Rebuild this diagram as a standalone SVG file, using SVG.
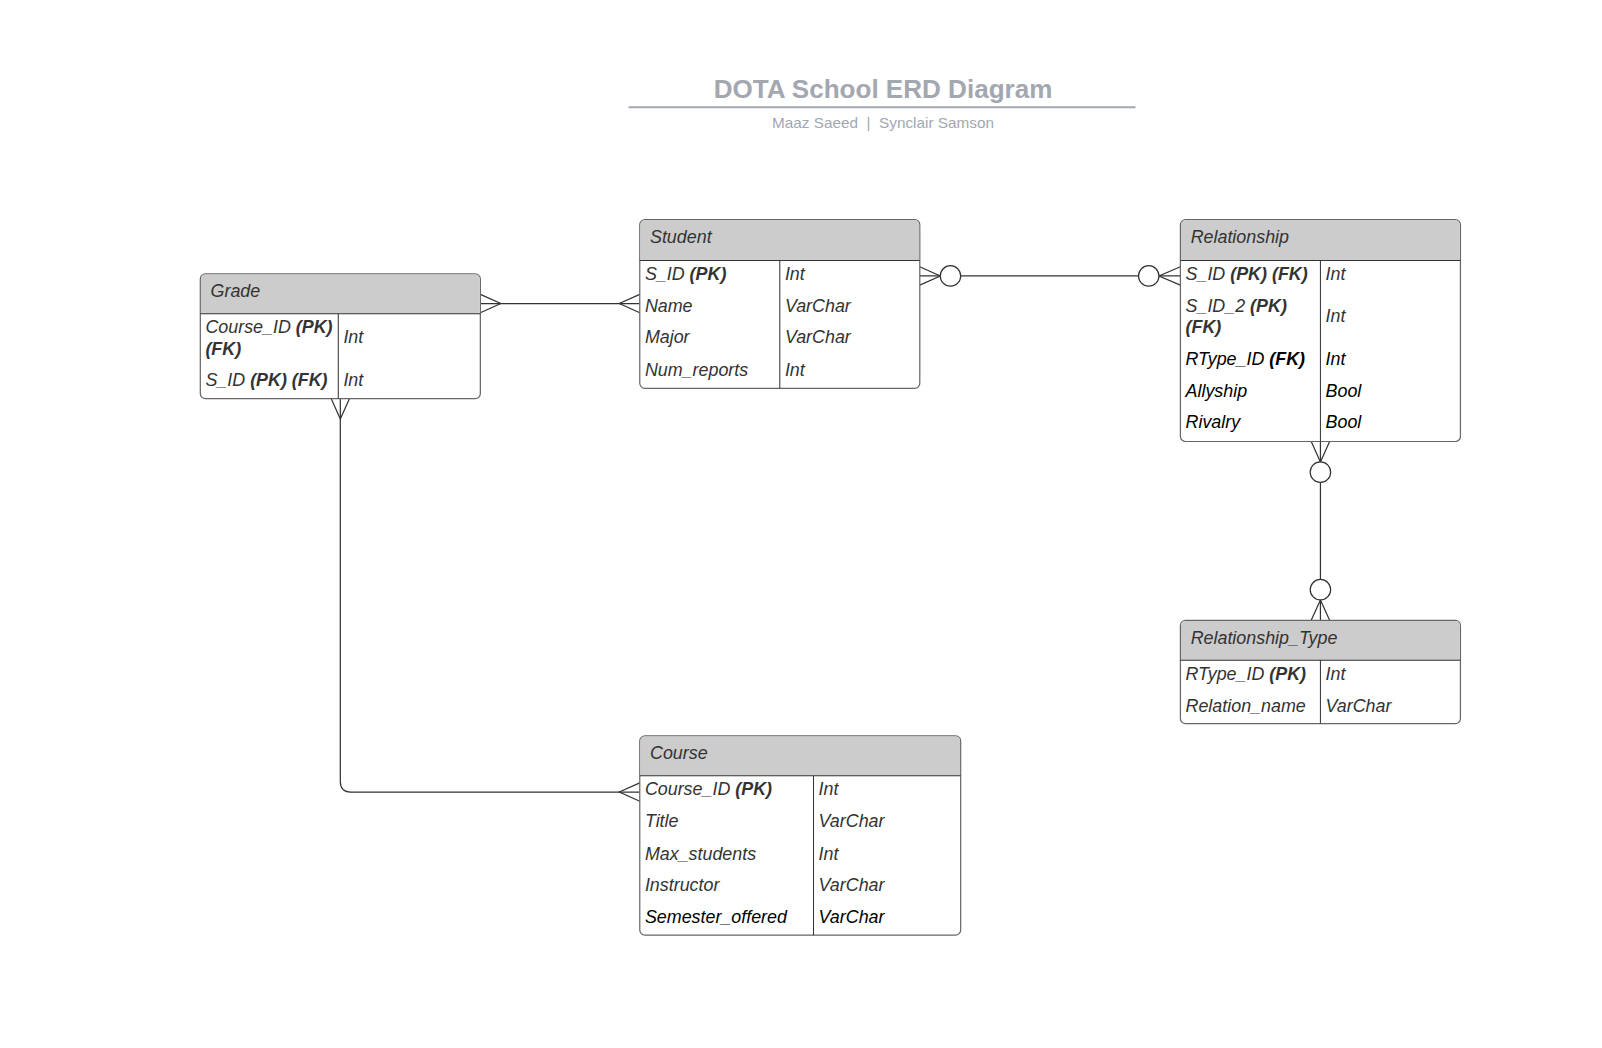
<svg xmlns="http://www.w3.org/2000/svg" width="1602" height="1048" viewBox="0 0 1602 1048">
<style>
text{font-family:"Liberation Sans",Arial,sans-serif;}
.box{fill:#ffffff;stroke:#666;stroke-width:1.2;}
.hdr{fill:#cccccc;stroke:none;}
.sep{stroke:#333;stroke-width:1;fill:none;}
.h{font-size:17.5px;font-style:italic;fill:#333;}
.f{font-size:17.5px;font-style:italic;fill:#333;}
.k{fill:#000;}
.b{font-weight:bold;}
.c{stroke:#333;stroke-width:1.2;fill:none;}
.o{stroke:#333;stroke-width:1.2;fill:#fff;}
</style>
<rect width="1602" height="1048" fill="#ffffff"/>
<g transform="scale(1.022)">
<g id="title">
<text x="864" y="96" text-anchor="middle" font-size="25.5" font-weight="bold" fill="#a3a7b0">DOTA School ERD Diagram</text>
<line x1="615" y1="105" x2="1111" y2="105" stroke="#a3a7b0" stroke-width="2"/>
<text x="864" y="125" text-anchor="middle" font-size="15" fill="#a3a7b0" xml:space="preserve">Maaz Saeed  |  Synclair Samson</text>
</g>
<g id="connectors">
<line class="c" x1="470" y1="297" x2="626" y2="297"/>
<polyline class="c" points="470,288 490,297 470,306"/>
<polyline class="c" points="626,288 606,297 626,306"/>
<line class="c" x1="900" y1="270" x2="1155" y2="270"/>
<polyline class="c" points="900,261 920,270 900,279"/>
<circle class="o" cx="930" cy="270" r="10"/>
<polyline class="c" points="1155,261 1134,270 1155,279"/>
<circle class="o" cx="1124" cy="270" r="10"/>
<line class="c" x1="1292" y1="432" x2="1292" y2="607"/>
<polyline class="c" points="1283,432 1292,452 1301,432"/>
<circle class="o" cx="1292" cy="462" r="10"/>
<polyline class="c" points="1283,607 1292,587 1301,607"/>
<circle class="o" cx="1292" cy="577" r="10"/>
<path class="c" d="M333,390 V765 Q333,775 343,775 H626"/>
<polyline class="c" points="324,390 333,410 342,390"/>
<polyline class="c" points="626,766 606,775 626,784"/>
</g>
<g id="grade">
<rect class="box" x="196" y="268" width="274" height="122" rx="5"/>
<path class="hdr" d="M201,268.6 H465 Q469.4,268.6 469.4,273 V307 H196.6 V273 Q196.6,268.6 201,268.6 Z"/>
<line class="sep" x1="196" y1="307" x2="470" y2="307"/>
<line class="sep" x1="331" y1="307" x2="331" y2="390"/>
<text class="h" x="206" y="291">Grade</text>
<text class="f" x="201" y="326">Course_ID <tspan class="b">(PK)</tspan></text>
<text class="f b" x="201" y="347">(FK)</text>
<text class="f" x="336" y="336">Int</text>
<text class="f" x="201" y="378">S_ID <tspan class="b">(PK) (FK)</tspan></text>
<text class="f" x="336" y="378">Int</text>
</g>
<g id="student">
<rect class="box" x="626" y="215" width="274" height="165" rx="5"/>
<path class="hdr" d="M631,215.6 H895 Q899.4,215.6 899.4,220 V255 H626.6 V220 Q626.6,215.6 631,215.6 Z"/>
<line class="sep" x1="626" y1="255" x2="900" y2="255"/>
<line class="sep" x1="763" y1="255" x2="763" y2="380"/>
<text class="h" x="636" y="238">Student</text>
<text class="f" x="631" y="274">S_ID <tspan class="b">(PK)</tspan></text>
<text class="f" x="768" y="274">Int</text>
<text class="f" x="631" y="305">Name</text>
<text class="f" x="768" y="305">VarChar</text>
<text class="f" x="631" y="336">Major</text>
<text class="f" x="768" y="336">VarChar</text>
<text class="f" x="631" y="368">Num_reports</text>
<text class="f" x="768" y="368">Int</text>
</g>
<g id="relationship">
<rect class="box" x="1155" y="215" width="274" height="217" rx="5"/>
<path class="hdr" d="M1160,215.6 H1424 Q1428.4,215.6 1428.4,220 V255 H1155.6 V220 Q1155.6,215.6 1160,215.6 Z"/>
<line class="sep" x1="1155" y1="255" x2="1429" y2="255"/>
<line class="sep" x1="1292" y1="255" x2="1292" y2="432"/>
<text class="h" x="1165" y="238">Relationship</text>
<text class="f" x="1160" y="274">S_ID <tspan class="b">(PK) (FK)</tspan></text>
<text class="f" x="1297" y="274">Int</text>
<text class="f" x="1160" y="305">S_ID_2 <tspan class="b">(PK)</tspan></text>
<text class="f b" x="1160" y="326">(FK)</text>
<text class="f" x="1297" y="315">Int</text>
<text class="f k" x="1160" y="357">RType_ID <tspan class="b">(FK)</tspan></text>
<text class="f k" x="1297" y="357">Int</text>
<text class="f k" x="1160" y="388">Allyship</text>
<text class="f k" x="1297" y="388">Bool</text>
<text class="f k" x="1160" y="419">Rivalry</text>
<text class="f k" x="1297" y="419">Bool</text>
</g>
<g id="relationship_type">
<rect class="box" x="1155" y="607" width="274" height="101" rx="5"/>
<path class="hdr" d="M1160,607.6 H1424 Q1428.4,607.6 1428.4,612 V646 H1155.6 V612 Q1155.6,607.6 1160,607.6 Z"/>
<line class="sep" x1="1155" y1="646" x2="1429" y2="646"/>
<line class="sep" x1="1292" y1="646" x2="1292" y2="708"/>
<text class="h" x="1165" y="630">Relationship_Type</text>
<text class="f" x="1160" y="665">RType_ID <tspan class="b">(PK)</tspan></text>
<text class="f" x="1297" y="665">Int</text>
<text class="f" x="1160" y="697">Relation_name</text>
<text class="f" x="1297" y="697">VarChar</text>
</g>
<g id="course">
<rect class="box" x="626" y="720" width="314" height="195" rx="5"/>
<path class="hdr" d="M631,720.6 H935 Q939.4,720.6 939.4,725 V759 H626.6 V725 Q626.6,720.6 631,720.6 Z"/>
<line class="sep" x1="626" y1="759" x2="940" y2="759"/>
<line class="sep" x1="796" y1="759" x2="796" y2="915"/>
<text class="h" x="636" y="743">Course</text>
<text class="f" x="631" y="778">Course_ID <tspan class="b">(PK)</tspan></text>
<text class="f" x="801" y="778">Int</text>
<text class="f" x="631" y="809">Title</text>
<text class="f" x="801" y="809">VarChar</text>
<text class="f" x="631" y="841">Max_students</text>
<text class="f" x="801" y="841">Int</text>
<text class="f" x="631" y="872">Instructor</text>
<text class="f" x="801" y="872">VarChar</text>
<text class="f k" x="631" y="903">Semester_offered</text>
<text class="f k" x="801" y="903">VarChar</text>
</g>
</g>
</svg>
